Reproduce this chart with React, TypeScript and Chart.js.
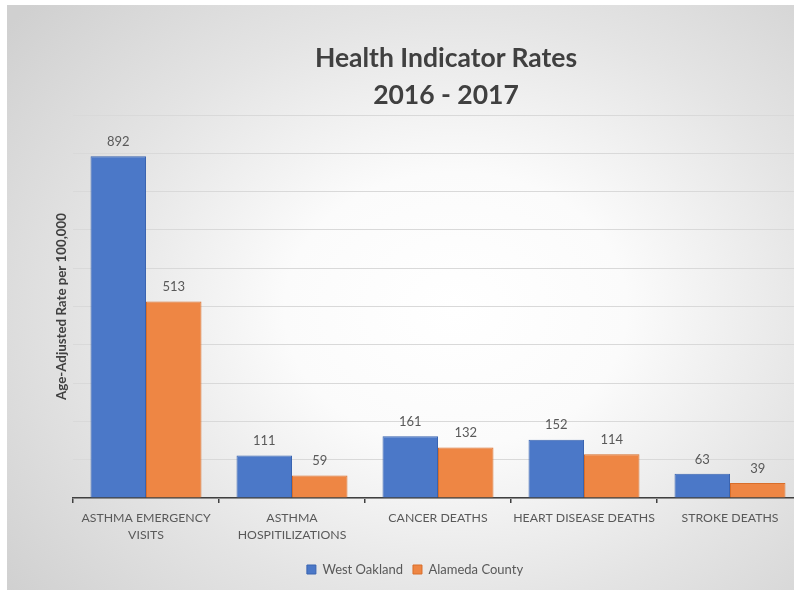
import React, { useEffect, useRef } from "react";
import { Chart, registerables } from "chart.js";

Chart.register(...registerables);

const categories: (string | string[])[] = [
  ["ASTHMA EMERGENCY", "VISITS"],
  ["ASTHMA", "HOSPITILIZATIONS"],
  "CANCER DEATHS",
  "HEART DISEASE DEATHS",
  "STROKE DEATHS",
];
const westOakland = [892, 111, 161, 152, 63];
const alamedaCounty = [513, 59, 132, 114, 39];
const seriesNames = ["West Oakland", "Alameda County"];
const titleLines = ["Health Indicator Rates", "2016 - 2017"];
const yAxisTitle = "Age-Adjusted Rate per 100,000";
const yMax = 1000;
const yStep = 100;

const FONT = "Lato, 'Open Sans', sans-serif";

const valueLabels = {
  id: "valueLabels",
  afterDatasetsDraw(chart: any) {
    const ctx = chart.ctx;
    ctx.save();
    ctx.font = `13px ${FONT}`;
    ctx.fillStyle = "#595959";
    ctx.textAlign = "center";
    ctx.textBaseline = "bottom";
    chart.data.datasets.forEach((ds: any, i: number) => {
      const meta = chart.getDatasetMeta(i);
      meta.data.forEach((el: any, j: number) => {
        ctx.fillText(String(ds.data[j]), el.x, el.y - 8);
      });
    });
    ctx.restore();
  },
};

export default function App() {
  const ref = useRef<HTMLCanvasElement>(null);
  useEffect(() => {
    if (!ref.current) return;
    const chart = new Chart(ref.current, {
      type: "bar",
      data: {
        labels: categories,
        datasets: [
          {
            label: seriesNames[0],
            data: westOakland,
            backgroundColor: "#4B78C8",
            borderColor: "#3A64B0",
            borderWidth: 1,
            categoryPercentage: 0.76,
            barPercentage: 1.0,
          },
          {
            label: seriesNames[1],
            data: alamedaCounty,
            backgroundColor: "#EE8644",
            borderColor: "#D96E2A",
            borderWidth: 1,
            categoryPercentage: 0.76,
            barPercentage: 1.0,
          },
        ],
      },
      options: {
        animation: false,
        responsive: false,
        maintainAspectRatio: false,
        layout: { padding: { top: 110, left: 0, right: 0, bottom: 4 } },
        plugins: {
          title: { display: false },
          tooltip: { enabled: false },
          legend: {
            display: true,
            position: "bottom",
            labels: {
              font: { family: FONT, size: 13 },
              color: "#595959",
              boxWidth: 9,
              boxHeight: 9,
              padding: 10,
            },
          },
        },
        scales: {
          x: {
            grid: {
              display: true,
              drawOnChartArea: false,
              drawTicks: true,
              tickLength: 5,
              color: "#404040",
              lineWidth: 1.5,
            },
            border: { display: true, color: "#404040", width: 1.5 },
            ticks: {
              font: { family: FONT, size: 12.3, lineHeight: 1.4 },
              color: "#595959",
              maxRotation: 0,
              autoSkip: false,
              padding: 6,
            },
            afterFit: (s: any) => {
              s.height = 55;
            },
          },
          y: {
            min: 0,
            max: yMax,
            ticks: { display: false, stepSize: yStep },
            grid: { color: "#d9d9d9", drawTicks: false, lineWidth: 1 },
            border: { display: false },
            title: {
              display: true,
              text: yAxisTitle,
              font: { family: FONT, size: 13.3, weight: "bold" },
              color: "#404040",
              padding: { top: 47, bottom: 0 },
            },
            afterFit: (s: any) => {
              s.width = 66;
            },
          },
          y2: {
            position: "right",
            display: true,
            ticks: { display: false },
            grid: { display: false, drawTicks: false },
            border: { display: false },
            afterFit: (s: any) => {
              s.width = 20;
            },
          },
        },
      },
      plugins: [valueLabels],
    });
    return () => chart.destroy();
  }, []);

  return (
    <div
      style={{
        position: "fixed",
        left: 0,
        top: 0,
        width: 794,
        height: 590,
        overflow: "hidden",
        background: "#ffffff",
      }}
    >
      <div
        style={{
          position: "absolute",
          left: 7,
          top: 5,
          width: 816,
          height: 585,
          background:
            "radial-gradient(ellipse 70% 78% at 55% 52%, #ffffff 0%, #fbfbfb 30%, #e4e4e4 65%, #d0d0d0 100%)",
        }}
      >
        <canvas ref={ref} width={816} height={585} style={{ display: "block" }} />
      </div>
      <div
        style={{
          position: "absolute",
          left: 0,
          width: 892,
          top: 39,
          textAlign: "center",
          fontFamily: FONT,
          fontWeight: 700,
          fontSize: 26.5,
          lineHeight: "37px",
          color: "#404040",
        }}
      >
        {titleLines.map((t) => (
          <div key={t}>{t}</div>
        ))}
      </div>
    </div>
  );
}
